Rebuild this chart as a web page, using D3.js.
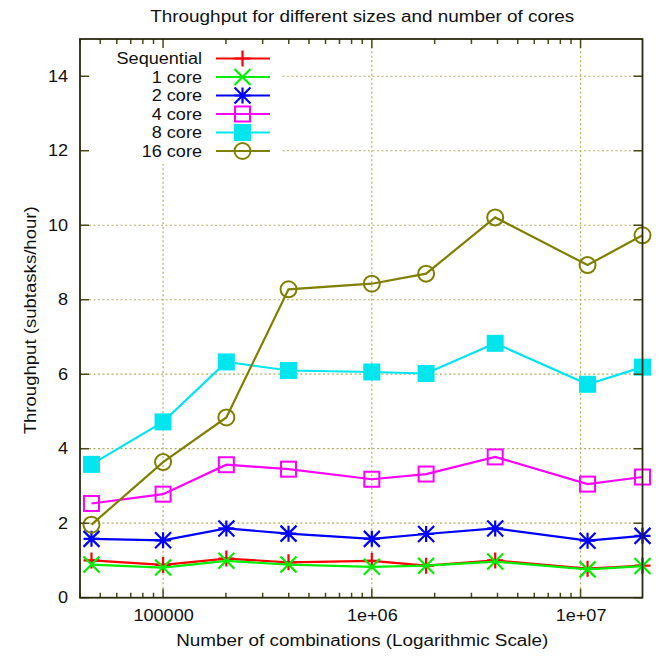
<!DOCTYPE html>
<html>
<head>
<meta charset="utf-8">
<script src="https://cdn.jsdelivr.net/npm/d3@7"></script>
<style>
  body { margin: 0; background: #fff; }
  text { font-family: "Liberation Sans", Arial, sans-serif; fill: #111; }
</style>
</head>
<body>
<div id="chart"></div>
<script>
// number of combinations (x, log scale)
const combinations = [45400, 100000, 201000, 399000, 1000000, 1820000, 3900000, 10800000, 19800000];

const seriesNames = ["Sequential", "1 core", "2 core", "4 core", "8 core", "16 core"];
const sequential = [1.00, 0.88, 1.05, 0.95, 0.99, 0.86, 1.00, 0.78, 0.86];
const core1 = [0.89, 0.81, 0.99, 0.89, 0.83, 0.86, 0.97, 0.76, 0.85];
const core2 = [1.58, 1.54, 1.86, 1.72, 1.58, 1.71, 1.86, 1.53, 1.66];
const core4 = [2.53, 2.78, 3.57, 3.45, 3.18, 3.32, 3.78, 3.05, 3.24];
const core8 = [3.58, 4.72, 6.33, 6.10, 6.06, 6.02, 6.83, 5.73, 6.19];
const core16 = [1.96, 3.64, 4.84, 8.28, 8.43, 8.70, 10.21, 8.93, 9.73];

const yTicks = [0, 2, 4, 6, 8, 10, 12, 14];
const xTicks = [100000, 1000000, 10000000];
const xTickLabels = ["100000", "1e+06", "1e+07"];

const colors = ["#ff0000", "#00ee00", "#0000ff", "#ff00ff", "#00e5ee", "#808000"];
const markers = ["plus", "cross", "star", "box", "boxFilled", "circle"];
const values = [sequential, core1, core2, core4, core8, core16];

const W = 659, H = 659;
const margin = {top: 40, right: 16, bottom: 60, left: 80};
const fontSize = 16;
const stretch = 1.13; // text in the reference is a bit wide

const svg = d3.select("#chart").append("svg")
  .attr("width", W).attr("height", H);

const x = d3.scaleLog()
  .domain([40000, 19800000])
  .range([margin.left, W - margin.right - 0.5]);

const y = d3.scaleLinear()
  .domain([0, 15])
  .range([H - margin.bottom - 1.3, margin.top - 1]);

const x0 = x.range()[0], x1 = x.range()[1];
const y0 = y.range()[0], y1 = y.range()[1];

const widen = sel => sel.each(function () {
  const len = this.getComputedTextLength();
  d3.select(this).attr("textLength", len * stretch).attr("lengthAdjust", "spacingAndGlyphs");
});

// grid
const grid = svg.append("g")
  .attr("stroke", "#b0b060")
  .attr("stroke-width", 1.2)
  .attr("stroke-dasharray", "2,2.5");

grid.selectAll(".gy").data(yTicks.filter(d => d > 0)).enter()
  .append("line")
  .attr("x1", x0).attr("x2", x1)
  .attr("y1", d => y(d)).attr("y2", d => y(d));

grid.selectAll(".gx").data(xTicks).enter()
  .append("line")
  .attr("x1", d => x(d)).attr("x2", d => x(d))
  .attr("y1", y0).attr("y2", y1);

// key background covers the grid
const key = {left: x0 + 1, top: y1 + 1, width: 200, height: 122};
svg.append("rect")
  .attr("x", key.left).attr("y", key.top)
  .attr("width", key.width).attr("height", key.height)
  .attr("fill", "#fff");

// marker shapes
const markerPath = (type, s) => {
  switch (type) {
    case "plus": return `M${-s},0H${s}M0,${-s}V${s}`;
    case "cross": return `M${-s},${-s}L${s},${s}M${-s},${s}L${s},${-s}`;
    case "star": return `M${-s},0H${s}M0,${-s}V${s}M${-s},${-s}L${s},${s}M${-s},${s}L${s},${-s}`;
    default: return "";
  }
};

const drawMarker = (g, type, color) => {
  if (type === "box" || type === "boxFilled") {
    g.append("rect")
      .attr("x", -7.5).attr("y", -7.5).attr("width", 15).attr("height", 15)
      .attr("fill", type === "boxFilled" ? color : "none")
      .attr("stroke", color).attr("stroke-width", 2);
  } else if (type === "circle") {
    g.append("circle").attr("r", 8)
      .attr("fill", "none").attr("stroke", color).attr("stroke-width", 2);
  } else {
    g.append("path").attr("d", markerPath(type, 8))
      .attr("fill", "none").attr("stroke", color).attr("stroke-width", 2.2);
  }
};

const line = d3.line()
  .x(d => x(d[0]))
  .y(d => y(d[1]));

values.forEach((vals, i) => {
  const pts = combinations.map((c, j) => [c, vals[j]]);
  const g = svg.append("g");
  g.append("path")
    .datum(pts)
    .attr("d", line)
    .attr("fill", "none")
    .attr("stroke", colors[i])
    .attr("stroke-width", 2.2);
  pts.forEach(p => {
    const m = g.append("g").attr("transform", `translate(${x(p[0])},${y(p[1])})`);
    drawMarker(m, markers[i], colors[i]);
  });
});

// key
const keyRows = svg.append("g").selectAll("g")
  .data(seriesNames).enter()
  .append("g")
  .attr("transform", (d, i) => `translate(0,${58.5 + i * 18.5})`);

keyRows.append("text")
  .attr("x", 202).attr("dy", "0.35em")
  .attr("text-anchor", "end")
  .attr("font-size", fontSize)
  .text(d => d)
  .call(widen);

keyRows.append("line")
  .attr("x1", 216).attr("x2", 270)
  .attr("stroke", (d, i) => colors[i])
  .attr("stroke-width", 2.2);

keyRows.each(function (d, i) {
  const m = d3.select(this).append("g").attr("transform", "translate(242.5,0)");
  drawMarker(m, markers[i], colors[i]);
});

// axes and frame
const bottomAxis = d3.axisBottom(x)
  .tickValues(xTicks)
  .tickFormat((d, i) => xTickLabels[i])
  .tickSize(0).tickPadding(12);

svg.append("g")
  .attr("transform", `translate(0,${y0})`)
  .call(bottomAxis)
  .call(g => g.select(".domain").remove())
  .call(g => g.selectAll("text").attr("font-size", fontSize).attr("fill", "#111").call(widen));

const leftAxis = d3.axisLeft(y)
  .tickValues(yTicks)
  .tickSize(0).tickPadding(12);

svg.append("g")
  .attr("transform", `translate(${x0},0)`)
  .call(leftAxis)
  .call(g => g.select(".domain").remove())
  .call(g => g.selectAll("text").attr("font-size", fontSize).attr("fill", "#111").call(widen));

// minor log ticks 2..9 per decade
const minor = [];
for (let e = 4; e <= 7; e++) {
  for (let m = 2; m <= 9; m++) {
    const v = m * Math.pow(10, e);
    if (v >= x.domain()[0] && v <= x.domain()[1]) minor.push(v);
  }
}

const tickColor = "#4a4a18";
const ticks = svg.append("g").attr("stroke", tickColor).attr("stroke-width", 1.5);

[y0, y1].forEach((yy, k) => {
  const dir = k === 0 ? -1 : 1;
  ticks.selectAll(null).data(minor).enter().append("line")
    .attr("x1", d => x(d)).attr("x2", d => x(d))
    .attr("y1", yy).attr("y2", yy + dir * 5);
  ticks.selectAll(null).data(xTicks).enter().append("line")
    .attr("x1", d => x(d)).attr("x2", d => x(d))
    .attr("y1", yy).attr("y2", yy + dir * 9);
});

[x0, x1].forEach((xx, k) => {
  const dir = k === 0 ? 1 : -1;
  ticks.selectAll(null).data(yTicks).enter().append("line")
    .attr("x1", xx).attr("x2", xx + dir * 9)
    .attr("y1", d => y(d)).attr("y2", d => y(d));
});

svg.append("rect")
  .attr("x", x0).attr("y", y1)
  .attr("width", x1 - x0).attr("height", y0 - y1)
  .attr("fill", "none")
  .attr("stroke", "#2a2a10")
  .attr("stroke-width", 1.8);

// titles
svg.append("text")
  .attr("x", (x0 + x1) / 2 + 1).attr("y", 22)
  .attr("text-anchor", "middle")
  .attr("font-size", fontSize)
  .attr("textLength", 424)
  .attr("lengthAdjust", "spacingAndGlyphs")
  .text("Throughput for different sizes and number of cores");

svg.append("text")
  .attr("x", (x0 + x1) / 2 + 1).attr("y", 646)
  .attr("text-anchor", "middle")
  .attr("font-size", fontSize)
  .attr("textLength", 372)
  .attr("lengthAdjust", "spacingAndGlyphs")
  .text("Number of combinations (Logarithmic Scale)");

svg.append("text")
  .attr("transform", `translate(36,${(y0 + y1) / 2 + 2}) rotate(-90)`)
  .attr("text-anchor", "middle")
  .attr("font-size", fontSize)
  .attr("textLength", 228)
  .attr("lengthAdjust", "spacingAndGlyphs")
  .text("Throughput (subtasks/hour)");
</script>
</body>
</html>
